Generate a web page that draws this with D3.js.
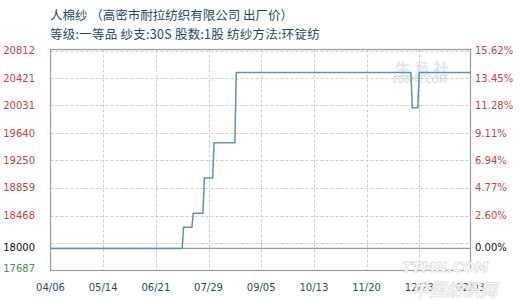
<!DOCTYPE html>
<html>
<head>
<meta charset="utf-8">
<script src="https://cdn.jsdelivr.net/npm/d3@7"></script>
<style>
  body { margin: 0; background: #fff; }
  svg { display: block; }
</style>
</head>
<body>
<div id="chart"></div>
<script>
// price series (step changes)
var dates = ["2021-04-06", "2021-07-10", "2021-07-11", "2021-07-17", "2021-07-18",
             "2021-07-25", "2021-07-26", "2021-08-01", "2021-08-02", "2021-08-17",
             "2021-08-18", "2021-12-22", "2021-12-23", "2021-12-27", "2021-12-28",
             "2022-02-03"];
var prices = [18000, 18000, 18300, 18300, 18500, 18500, 19000, 19000, 19500, 19500,
              20500, 20500, 20000, 20000, 20500, 20500];

var xTicks = ["2021-04-06", "2021-05-14", "2021-06-21", "2021-07-29", "2021-09-05",
              "2021-10-13", "2021-11-20", "2021-12-28", "2022-02-03"];
var yTicks = [20812, 20421, 20031, 19640, 19250, 18859, 18468];
var pctLabels = ["15.62%", "13.45%", "11.28%", "9.11%", "6.94%", "4.77%", "2.60%"];
var gridTicks = [20812, 20421, 20031, 19640, 19250, 18859, 18468, 18078];
var basePrice = 18000;
var minPrice = 17687;
var maxPrice = 20812;

var title1 = "人棉纱 （高密市耐拉纺织有限公司 出厂价）";
var title2 = "等级:一等品 纱支:30S 股数:1股 纺纱方法:环锭纺";

var svgWidth = 520;
var svgHeight = 300;
var plotLeft = 50.5, plotRight = 470.5, plotTop = 49.5, plotBottom = 270.5;

var parse = d3.timeParse("%Y-%m-%d");
var fmt = d3.timeFormat("%m/%d");

var data = dates.map((d, i) => ({ date: parse(d), value: prices[i] }));

var svg = d3.select("#chart").append("svg")
            .attr("width", svgWidth)
            .attr("height", svgHeight);

var xScale = d3.scaleTime()
               .domain([parse(xTicks[0]), parse(xTicks[xTicks.length - 1])])
               .range([plotLeft, plotRight]);

var yScale = d3.scaleLinear()
               .domain([minPrice, maxPrice])
               .range([plotBottom, plotTop + 1]);

// title
svg.append("text").attr("x", 50).attr("y", 20)
   .attr("font-family", "Noto Sans CJK SC").attr("font-size", "12.5px")
   .attr("fill", "#1e4a68").text(title1);
svg.append("text").attr("x", 50).attr("y", 39)
   .attr("font-family", "Noto Sans CJK SC").attr("font-size", "12.5px")
   .attr("letter-spacing", "0.25px")
   .attr("fill", "#1e4a68").text(title2);

// watermarks
svg.append("text").attr("x", 395).attr("y", 75)
   .attr("font-family", "Noto Sans CJK SC").attr("font-size", "16px").attr("font-weight", "bold")
   .attr("fill", "#e2e8ef").attr("letter-spacing", "3").text("生意社");
svg.append("text").attr("x", 392).attr("y", 83)
   .attr("font-family", "DejaVu Sans").attr("font-size", "9px")
   .attr("fill", "#d4d4d4").text("100PPI.COM");

// gridlines
svg.append("g").selectAll("line").data(gridTicks).enter().append("line")
   .attr("x1", plotLeft).attr("x2", plotRight)
   .attr("y1", d => Math.round(yScale(d)) + 0.5)
   .attr("y2", d => Math.round(yScale(d)) + 0.5)
   .attr("stroke", "#cccccc").attr("stroke-dasharray", "3,2");

svg.append("g").selectAll("line").data(xTicks.slice(1, -1)).enter().append("line")
   .attr("x1", d => Math.round(xScale(parse(d))) + 0.5)
   .attr("x2", d => Math.round(xScale(parse(d))) + 0.5)
   .attr("y1", plotTop).attr("y2", plotBottom)
   .attr("stroke", "#cccccc").attr("stroke-dasharray", "3,2");

// base line at 18000
svg.append("line")
   .attr("x1", plotLeft).attr("x2", plotRight)
   .attr("y1", yScale(basePrice)).attr("y2", yScale(basePrice))
   .attr("stroke", "#999").attr("stroke-width", 1.2);

// frame
svg.append("rect")
   .attr("x", plotLeft).attr("y", plotTop)
   .attr("width", plotRight - plotLeft).attr("height", plotBottom - plotTop)
   .attr("fill", "none").attr("stroke", "#999").attr("stroke-width", 1.2);

// price line
var line = d3.line().x(d => xScale(d.date)).y(d => yScale(d.value));
svg.append("path").datum(data)
   .attr("d", line)
   .attr("fill", "none")
   .attr("stroke", "#5596b5")
   .attr("stroke-width", 1.5);

// left axis labels
var leftG = svg.append("g")
               .attr("font-family", "DejaVu Sans").attr("font-size", "10px")
               .attr("text-anchor", "end");
leftG.selectAll("text").data(yTicks).enter().append("text")
     .attr("x", 35).attr("y", d => yScale(d)).attr("dy", "0.35em")
     .attr("fill", "#cc3d3d").text(d => d);
leftG.append("text").attr("x", 35).attr("y", yScale(basePrice) - 1).attr("dy", "0.35em")
     .attr("fill", "#111").text(basePrice);
leftG.append("text").attr("x", 35).attr("y", yScale(minPrice) - 2).attr("dy", "0.35em")
     .attr("fill", "#3d9a3d").text(minPrice);

// right axis labels
var rightG = svg.append("g")
                .attr("font-family", "DejaVu Sans").attr("font-size", "10px");
rightG.selectAll("text").data(yTicks).enter().append("text")
      .attr("x", 475).attr("y", d => yScale(d)).attr("dy", "0.35em")
      .attr("fill", "#cc3d3d").text((d, i) => pctLabels[i]);
rightG.append("text").attr("x", 475).attr("y", yScale(basePrice) - 1).attr("dy", "0.35em")
      .attr("fill", "#111").text("0.00%");

// bottom axis labels
svg.append("g").selectAll("text").data(xTicks).enter().append("text")
   .attr("x", d => xScale(parse(d))).attr("y", 291)
   .attr("text-anchor", "middle")
   .attr("font-family", "DejaVu Sans").attr("font-size", "10px")
   .attr("fill", "#1f4e6e").text(d => fmt(parse(d)));

// bottom-right watermark
svg.append("text").attr("x", 402).attr("y", 272)
   .attr("font-family", "DejaVu Sans").attr("font-size", "14px").attr("font-weight", "bold")
   .attr("font-style", "italic")
   .attr("fill", "#fff").attr("stroke", "#dcdcdc").attr("stroke-width", 0.8)
   .text("TTMN.COM");
svg.append("text").attr("x", 412).attr("y", 296)
   .attr("font-family", "Noto Sans CJK SC").attr("font-size", "17px").attr("font-weight", "bold")
   .attr("font-style", "italic")
   .attr("fill", "#fff").attr("stroke", "#dcdcdc").attr("stroke-width", 0.8).attr("opacity", 0.85)
   .text("中国纺织网");
</script>
</body>
</html>
